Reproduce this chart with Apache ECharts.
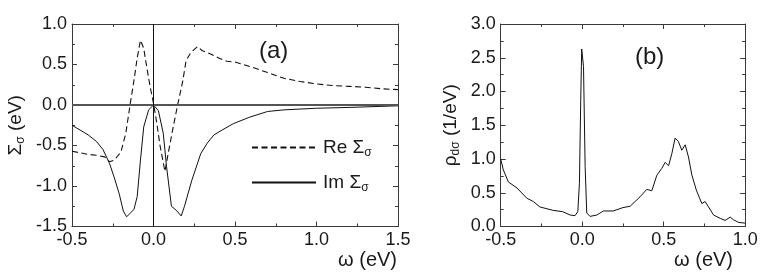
<!DOCTYPE html>
<html>
<head>
<meta charset="utf-8">
<script src="https://cdn.jsdelivr.net/npm/echarts@6/dist/echarts.min.js"></script>
<style>
html,body{margin:0;padding:0;background:#fff;}
#c{width:763px;height:274px;}
</style>
</head>
<body>
<div id="c"></div>
<script>
// ---- Data ----
const reOmega = [-0.50,-0.45,-0.40,-0.35,-0.30,-0.27,-0.24,-0.20,-0.17,-0.14,-0.12,-0.10,-0.08,-0.06,-0.04,-0.02,0.00,0.02,0.04,0.07,0.09,0.12,0.15,0.18,0.20,0.23,0.27,0.30,0.35,0.40,0.45,0.50,0.60,0.70,0.80,0.90,1.00,1.10,1.20,1.30,1.40,1.50];
const reSigma = [-0.57,-0.59,-0.61,-0.62,-0.64,-0.70,-0.68,-0.58,-0.35,0.05,0.30,0.58,0.80,0.70,0.45,0.22,0.02,-0.22,-0.50,-0.82,-0.60,-0.28,0.02,0.30,0.55,0.65,0.72,0.67,0.63,0.58,0.54,0.53,0.47,0.40,0.33,0.29,0.26,0.24,0.23,0.22,0.20,0.19];

const imOmega = [-0.50,-0.45,-0.40,-0.35,-0.31,-0.27,-0.24,-0.21,-0.185,-0.165,-0.14,-0.12,-0.10,-0.08,-0.06,-0.03,0.00,0.03,0.06,0.08,0.11,0.14,0.17,0.19,0.235,0.29,0.33,0.37,0.42,0.49,0.59,0.70,0.80,1.00,1.20,1.50];
const imSigma = [-0.25,-0.31,-0.37,-0.45,-0.55,-0.72,-0.90,-1.10,-1.31,-1.38,-1.33,-1.29,-1.13,-0.68,-0.27,-0.06,0.00,-0.07,-0.35,-0.76,-1.25,-1.30,-1.37,-1.25,-0.93,-0.60,-0.47,-0.37,-0.31,-0.23,-0.15,-0.08,-0.06,-0.04,-0.03,-0.01];

const rhoOmega = [-0.50,-0.484,-0.453,-0.40,-0.34,-0.30,-0.26,-0.18,-0.12,-0.074,-0.044,-0.027,-0.017,-0.009,-0.003,0.008,0.018,0.028,0.048,0.09,0.13,0.19,0.25,0.294,0.355,0.396,0.427,0.458,0.488,0.509,0.53,0.55,0.57,0.59,0.611,0.632,0.652,0.673,0.70,0.734,0.754,0.775,0.806,0.847,0.877,0.908,0.928,0.96,1.00];
const rhoValues = [1.00,0.84,0.66,0.57,0.42,0.37,0.29,0.24,0.22,0.17,0.16,0.22,0.64,1.87,2.63,2.37,0.89,0.20,0.15,0.17,0.23,0.23,0.28,0.30,0.44,0.55,0.53,0.76,0.86,0.95,0.90,1.08,1.31,1.26,1.13,1.21,1.03,0.76,0.54,0.34,0.37,0.29,0.17,0.12,0.09,0.14,0.10,0.06,0.05];

const leftXTicks = {min:-0.5, max:1.5, interval:0.5};
const leftYTicks = {min:-1.5, max:1.0, interval:0.5};
const rightXTicks = {min:-0.5, max:1.0, interval:0.5};
const rightYTicks = {min:0.0, max:3.0, interval:0.5};

const seriesNames = ['Re Σσ', 'Im Σσ'];

// ---- Build ----
const pairs = (xs, ys) => xs.map((x, i) => [x, ys[i]]);
const FONT = 'Liberation Sans, Arial, sans-serif';
const AX = '#3a3a3a';
const fmt = v => v.toFixed(1);

function axis(base, extra) {
  return Object.assign({
    type: 'value',
    min: base.min, max: base.max, interval: base.interval,
    axisLine: {show: true, onZero: false, lineStyle: {color: AX, width: 1}},
    axisTick: {show: true, inside: true, length: 5, lineStyle: {color: AX}},
    minorTick: {show: true, splitNumber: 2, length: 3, lineStyle: {color: AX}},
    splitLine: {show: false},
    axisLabel: {show: true, color: '#1a1a1a', fontFamily: FONT, fontSize: 18, margin: 5, formatter: fmt},
  }, extra);
}
function mirror(base, extra) {
  const a = axis(base, extra);
  a.axisLabel = {show: false};
  return a;
}

const chart = echarts.init(document.getElementById('c'), null, {renderer: 'canvas'});
const subRich = {
  n: {fontFamily: FONT, fontSize: 19, color: '#1a1a1a'},
  s: {fontFamily: FONT, fontSize: 12, color: '#1a1a1a', padding: [10, 0, 0, 0]}
};
const legRich = {
  n: {fontFamily: FONT, fontSize: 19, color: '#1a1a1a', padding: [0, 0, 0, 2]},
  s: {fontFamily: FONT, fontSize: 12, color: '#1a1a1a', padding: [11, 0, 0, 0]}
};

chart.setOption({
  backgroundColor: '#fff',
  animation: false,
  grid: [
    {left: 72, top: 24, width: 326, height: 202.5},
    {left: 500.7, top: 24, width: 244.5, height: 202.5}
  ],
  xAxis: [
    axis(leftXTicks, {gridIndex: 0, position: 'bottom'}),
    mirror(leftXTicks, {gridIndex: 0, position: 'top'}),
    axis(rightXTicks, {gridIndex: 1, position: 'bottom'}),
    mirror(rightXTicks, {gridIndex: 1, position: 'top'})
  ],
  yAxis: [
    axis(leftYTicks, {gridIndex: 0, position: 'left',
      name: '{n|Σ}{s|σ}{n| (eV)}', nameLocation: 'middle', nameRotate: 90, nameGap: 45,
      nameTextStyle: {rich: subRich}}),
    mirror(leftYTicks, {gridIndex: 0, position: 'right'}),
    axis(rightYTicks, {gridIndex: 1, position: 'left',
      name: '{n|ρ}{s|dσ}{n| (1/eV)}', nameLocation: 'middle', nameRotate: 90, nameGap: 39,
      nameTextStyle: {rich: subRich}}),
    mirror(rightYTicks, {gridIndex: 1, position: 'right'})
  ],
  legend: {
    show: true,
    orient: 'vertical', left: 246, top: 133, itemWidth: 64, itemHeight: 14, itemGap: 14,
    data: seriesNames,
    itemStyle: {opacity: 0},
    formatter: function (n) { return n === seriesNames[0] ? '{n|Re Σ}{s|σ}' : '{n|Im Σ}{s|σ}'; },
    textStyle: {rich: legRich}
  },
  graphic: [
    {type: 'text', right: 366, top: 250, style: {text: 'ω (eV)', font: '20px ' + FONT, fill: '#1a1a1a'}},
    {type: 'text', right: 30, top: 250, style: {text: 'ω (eV)', font: '20px ' + FONT, fill: '#1a1a1a'}},
    {type: 'text', left: 259, top: 39, style: {text: '(a)', font: '24px ' + FONT, fill: '#1a1a1a'}},
    {type: 'text', left: 635, top: 45, style: {text: '(b)', font: '24px ' + FONT, fill: '#1a1a1a'}}
  ],
  series: [
    {
      name: seriesNames[0], type: 'line', xAxisIndex: 0, yAxisIndex: 0,
      data: pairs(reOmega, reSigma), symbol: 'none', smooth: false,
      lineStyle: {color: '#111', width: 1.1, type: [6, 3.5]},
      itemStyle: {color: '#111'},
      markLine: {
        silent: true, symbol: 'none', label: {show: false},
        data: [
          {yAxis: 0, lineStyle: {color: '#555', width: 2, type: 'solid'}},
          {xAxis: 0, lineStyle: {color: '#111', width: 1, type: 'solid'}}
        ]
      }
    },
    {
      name: seriesNames[1], type: 'line', xAxisIndex: 0, yAxisIndex: 0,
      data: pairs(imOmega, imSigma), symbol: 'none', smooth: false,
      lineStyle: {color: '#111', width: 1, type: 'solid'},
      itemStyle: {color: '#111'}
    },
    {
      name: 'rho', type: 'line', xAxisIndex: 2, yAxisIndex: 2,
      data: pairs(rhoOmega, rhoValues), symbol: 'none', smooth: false,
      lineStyle: {color: '#111', width: 1, type: 'solid'}
    }
  ]
});
</script>
</body>
</html>
